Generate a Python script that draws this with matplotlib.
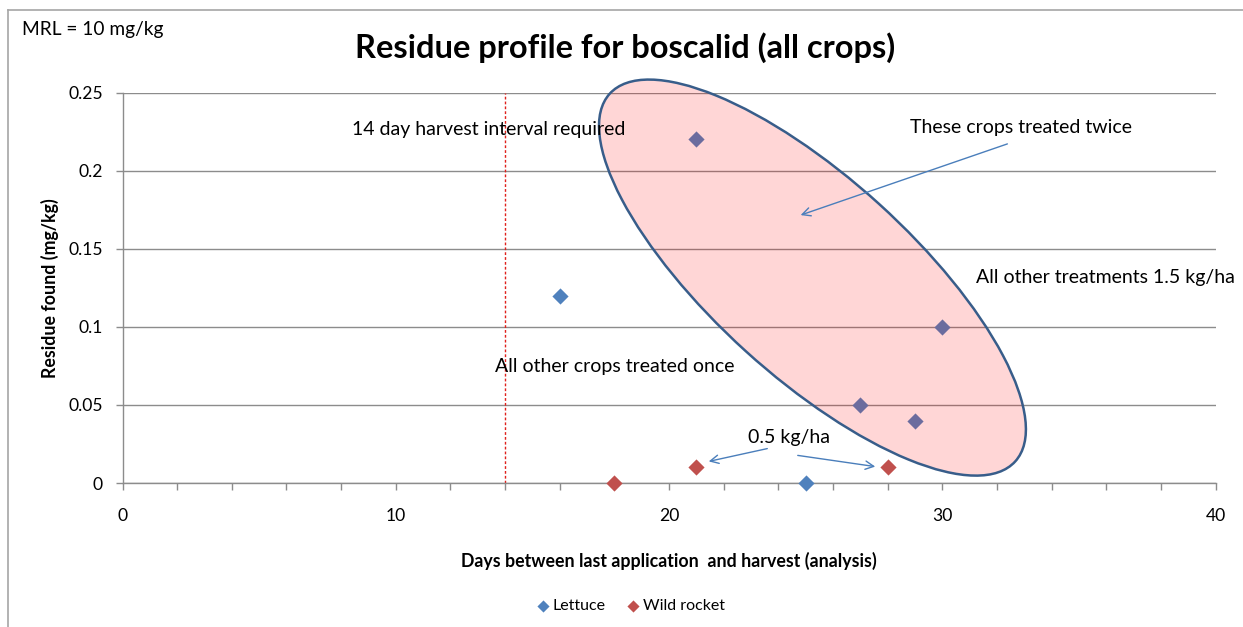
import matplotlib
matplotlib.use("Agg")
import matplotlib.pyplot as plt
from matplotlib.patches import Ellipse, FancyArrowPatch
from matplotlib.transforms import IdentityTransform
from matplotlib.lines import Line2D
from matplotlib.ticker import MultipleLocator

plt.rcParams['font.family'] = ['Lato', 'DejaVu Sans']

# Data
lettuce_days = [16, 25, 21, 30, 27, 29]
lettuce_res = [0.12, 0.0, 0.22, 0.10, 0.05, 0.04]
rocket_days = [18, 21, 28]
rocket_res = [0.0, 0.01, 0.01]

x_ticks = [0, 10, 20, 30, 40]
y_ticks = [0, 0.05, 0.1, 0.15, 0.2, 0.25]
y_ticklabels = ['0', '0.05', '0.1', '0.15', '0.2', '0.25']
harvest_interval = 14

W, H = 1243, 627
fig = plt.figure(figsize=(W / 100, H / 100), dpi=100)
ax = fig.add_axes([122.5 / W, 1 - 483 / H, (1215.5 - 122.5) / W, (483 - 92.5) / H])

gray = '#8c8c8c'
ax.set_xlim(0, 40)
ax.set_ylim(0, 0.25)
ax.set_xticks(x_ticks)
ax.xaxis.set_minor_locator(MultipleLocator(2))
ax.set_yticks(y_ticks)
ax.set_yticklabels(y_ticklabels)
for s in ['top', 'right']:
    ax.spines[s].set_visible(False)
for s in ['left', 'bottom']:
    ax.spines[s].set_color(gray)
    ax.spines[s].set_linewidth(1.0)
ax.tick_params(axis='both', which='both', color=gray, length=5, width=1,
               labelsize=12.6, labelcolor='black', direction='out')
ax.tick_params(axis='x', pad=13)
ax.tick_params(axis='y', pad=9)
ax.yaxis.grid(True, color=gray, linewidth=1.0)
ax.set_axisbelow(True)

ax.axvline(harvest_interval, color='#e0201b', linestyle=(0, (2, 1.5)), linewidth=1.0, zorder=2)

ax.scatter(lettuce_days, lettuce_res, marker='D', s=68, color='#4f81bd', zorder=3,
           label='Lettuce', linewidths=0, clip_on=False)
ax.scatter(rocket_days, rocket_res, marker='D', s=68, color='#c0504d', zorder=3,
           label='Wild rocket', linewidths=0, clip_on=False)

# Ellipse (pixel-size annotation anchored to data centre)
fig.canvas.draw()
cx, cy = ax.transData.transform((25.25, 0.1315))
ell = Ellipse((cx, cy), 2 * 273.7, 2 * 99.3, angle=-42.2, transform=IdentityTransform(),
              facecolor=(1, 0, 0, 0.16), edgecolor='#385d8a', linewidth=1.8, zorder=4)
fig.add_artist(ell)

ax.set_xlabel('Days between last application  and harvest (analysis)', fontsize=12.8,
              fontweight='bold', labelpad=20)
ax.set_ylabel('Residue found (mg/kg)', fontsize=12.8, fontweight='bold', labelpad=7)

fig.text(625 / W, 1 - 48 / H, 'Residue profile for boscalid (all crops)', ha='center', va='center',
         fontsize=23.5, fontweight='bold')
fig.text(22 / W, 1 - 30 / H, 'MRL = 10 mg/kg', ha='left', va='center', fontsize=13.8)

def px(x, y):
    return (x / W, 1 - y / H)

fs = 14
fig.text(*px(352, 130), '14 day harvest interval required', ha='left', va='center', fontsize=fs, zorder=5)
fig.text(*px(910, 128), 'These crops treated twice', ha='left', va='center', fontsize=fs, zorder=5)
fig.text(*px(976, 278), 'All other treatments 1.5 kg/ha', ha='left', va='center', fontsize=fs, zorder=5)
fig.text(*px(495, 366), 'All other crops treated once', ha='left', va='center', fontsize=fs, zorder=5)
fig.text(*px(748, 438), '0.5 kg/ha', ha='left', va='center', fontsize=fs, zorder=5)

arrow_color = '#4a7ebb'
for (x0, y0), (x1, y1) in [((1010, 143), (798, 216)), ((770, 448), (706, 462)), ((795, 455), (878, 467))]:
    fig.add_artist(FancyArrowPatch(px(x0, y0), px(x1, y1), transform=fig.transFigure,
                   arrowstyle='->,head_length=6,head_width=3', color=arrow_color, linewidth=1.0, zorder=6))

leg = fig.legend(loc='center', bbox_to_anchor=(630 / W, 1 - 606 / H), ncol=2, frameon=False,
                 fontsize=11.5, handletextpad=0.1, columnspacing=1.2, markerscale=0.75, handlelength=1.0)

# Chart-area border
fig.add_artist(Line2D([8 / W, 8 / W], [1 - 10 / H, 0], color='#a6a6a6', linewidth=1.2, transform=fig.transFigure))
fig.add_artist(Line2D([8 / W, 1], [1 - 10 / H, 1 - 10 / H], color='#a6a6a6', linewidth=1.2, transform=fig.transFigure))

fig.savefig('out.png', dpi=100)
